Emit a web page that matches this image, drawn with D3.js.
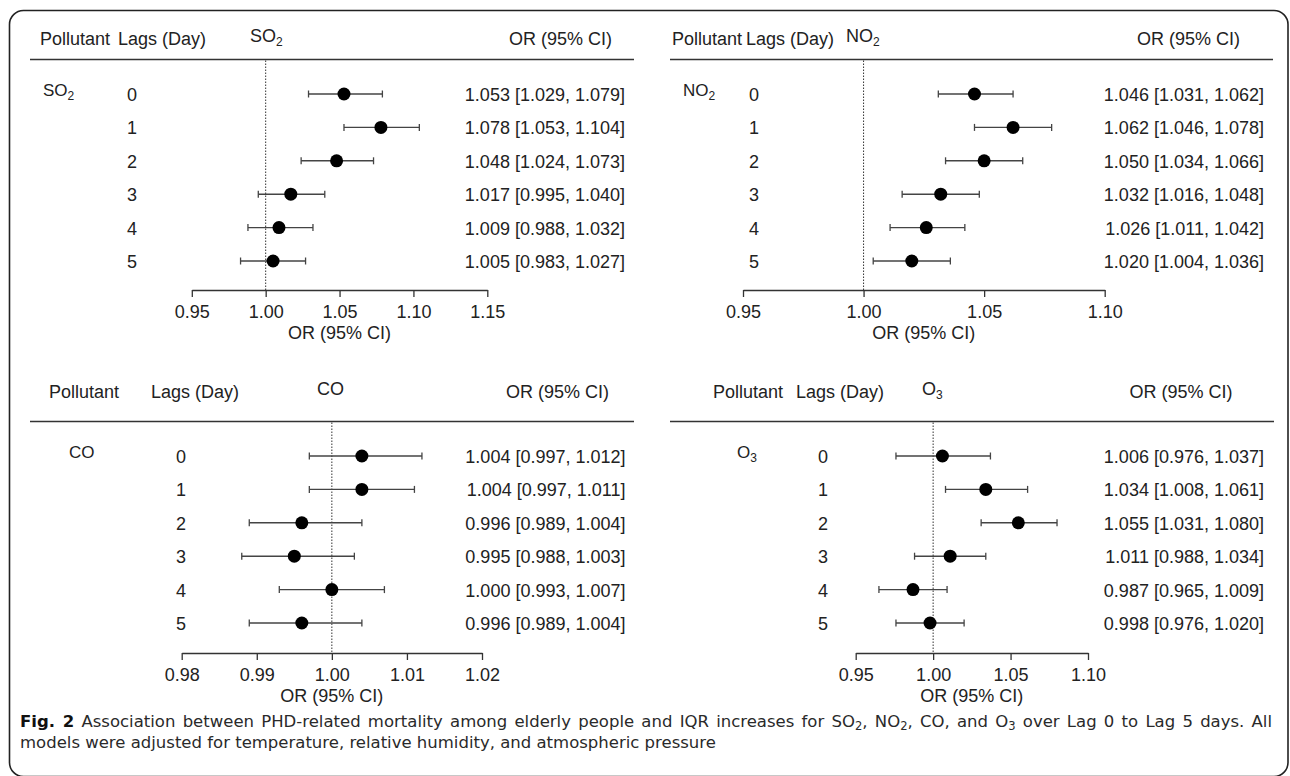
<!DOCTYPE html>
<html>
<head>
<meta charset="utf-8">
<script src="https://cdn.jsdelivr.net/npm/d3@7/dist/d3.min.js"></script>
<style>
  html, body { margin: 0; padding: 0; background: #fff; }
  svg { display: block; }
</style>
</head>
<body>
<svg id="chart" width="1290" height="776"></svg>
<script>
// ---------------- DATA ----------------
const pollutants = ["SO2", "NO2", "CO", "O3"];
const lags = [0, 1, 2, 3, 4, 5];

const so2OR = [1.053, 1.078, 1.048, 1.017, 1.009, 1.005];
const so2Lo = [1.029, 1.053, 1.024, 0.995, 0.988, 0.983];
const so2Hi = [1.079, 1.104, 1.073, 1.040, 1.032, 1.027];

const no2OR = [1.046, 1.062, 1.050, 1.032, 1.026, 1.020];
const no2Lo = [1.031, 1.046, 1.034, 1.016, 1.011, 1.004];
const no2Hi = [1.062, 1.078, 1.066, 1.048, 1.042, 1.036];

const coOR = [1.004, 1.004, 0.996, 0.995, 1.000, 0.996];
const coLo = [0.997, 0.997, 0.989, 0.988, 0.993, 0.989];
const coHi = [1.012, 1.011, 1.004, 1.003, 1.007, 1.004];

const o3OR = [1.006, 1.034, 1.055, 1.011, 0.987, 0.998];
const o3Lo = [0.976, 1.008, 1.031, 0.988, 0.965, 0.976];
const o3Hi = [1.037, 1.061, 1.080, 1.034, 1.009, 1.020];

const so2Ticks = [0.95, 1.00, 1.05, 1.10, 1.15];
const no2Ticks = [0.95, 1.00, 1.05, 1.10];
const coTicks = [0.98, 0.99, 1.00, 1.01, 1.02];
const o3Ticks = [0.95, 1.00, 1.05, 1.10];

const headerLabels = ["Pollutant", "Lags (Day)", "OR (95% CI)"];
const xAxisLabel = "OR (95% CI)";

// ---------------- LAYOUT ----------------
const FONT = "'Liberation Sans', Arial, Helvetica, sans-serif";
const CAP_FONT = "'DejaVu Sans', 'Open Sans', sans-serif";
const FS = 18;

const panels = [
  { name: pollutants[0], or: so2OR, lo: so2Lo, hi: so2Hi, ticks: so2Ticks,
    polHX: 40, lagHX: 118, titleX: 250, orHR: 612, lineX: [30, 634],
    polX: 43, lagX: 132, ciR: 625, xr: [191.8, 487.3],
    headY: 45, lineY: 59.5, rowY: [94, 261], axisY: 290 },
  { name: pollutants[1], or: no2OR, lo: no2Lo, hi: no2Hi, ticks: no2Ticks,
    polHX: 672, lagHX: 746, titleX: 846, orHR: 1240, lineX: [670, 1273],
    polX: 683, lagX: 754, ciR: 1264, xr: [743, 1104.7],
    headY: 45, lineY: 59.5, rowY: [94, 261], axisY: 290 },
  { name: pollutants[2], or: coOR, lo: coLo, hi: coHi, ticks: coTicks,
    polHX: 49, lagHX: 151, titleX: 317, orHR: 609, lineX: [30, 634],
    polX: 69, lagX: 181, ciR: 625.5, xr: [181.7, 482],
    headY: 398, lineY: 421.5, rowY: [456, 623], axisY: 653 },
  { name: pollutants[3], or: o3OR, lo: o3Lo, hi: o3Hi, ticks: o3Ticks,
    polHX: 713, lagHX: 796, titleX: 922, orHR: 1232.6, lineX: [670, 1274],
    polX: 737, lagX: 823, ciR: 1264, xr: [855.7, 1088],
    headY: 398, lineY: 421.5, rowY: [456, 623], axisY: 653 }
];

const svg = d3.select("#chart");

// rounded frame
svg.append("rect")
  .attr("x", 9.5).attr("y", 10.5)
  .attr("width", 1278.5).attr("height", 766)
  .attr("rx", 14).attr("ry", 14)
  .attr("fill", "none").attr("stroke", "#222").attr("stroke-width", 1.6);

// text with chemical subscripts
function chem(sel, label, subSize) {
  const parts = label.match(/[A-Za-z]+|\d+/g);
  parts.forEach((p, i) => {
    if (/^\d+$/.test(p)) {
      sel.append("tspan").attr("font-size", subSize).attr("dy", 4).text(p);
      if (i < parts.length - 1) sel.append("tspan").attr("dy", -4).text("");
    } else {
      sel.append("tspan").text(p);
    }
  });
}

const fmt = d3.format(".3f");

panels.forEach(p => {
  const g = svg.append("g");
  const x = d3.scaleLinear().domain([p.ticks[0], p.ticks[p.ticks.length - 1]]).range(p.xr);
  const y = d3.scalePoint().domain(lags).range(p.rowY);

  // header
  const ht = (tx, t, anchor) => g.append("text").attr("x", tx).attr("y", p.headY)
    .attr("font-family", FONT).attr("font-size", FS).attr("fill", "#222")
    .attr("text-anchor", anchor || "start").text(t);
  ht(p.polHX, headerLabels[0]);
  ht(p.lagHX, headerLabels[1]);
  ht(p.orHR, headerLabels[2], "end");
  const title = g.append("text").attr("x", p.titleX).attr("y", p.headY - 3)
    .attr("font-family", FONT).attr("font-size", FS).attr("fill", "#222");
  chem(title, p.name, 12);

  g.append("line").attr("x1", p.lineX[0]).attr("x2", p.lineX[1])
    .attr("y1", p.lineY).attr("y2", p.lineY)
    .attr("stroke", "#333").attr("stroke-width", 1.5);

  // reference line at OR = 1
  g.append("line").attr("x1", x(1)).attr("x2", x(1))
    .attr("y1", p.lineY + 1).attr("y2", p.axisY)
    .attr("stroke", "#333").attr("stroke-width", 1).attr("stroke-dasharray", "1.5,1.5");

  // pollutant label
  const pl = g.append("text").attr("x", p.polX).attr("y", p.rowY[0] + 1.5)
    .attr("font-family", FONT).attr("font-size", FS - 1).attr("fill", "#222");
  chem(pl, p.name, 12);

  const rows = lags.map((l, i) => ({ lag: l, or: p.or[i], lo: p.lo[i], hi: p.hi[i] }));

  // lag labels
  g.selectAll("text.lag").data(rows).join("text").attr("class", "lag")
    .attr("x", p.lagX).attr("y", d => y(d.lag) + 7)
    .attr("text-anchor", "middle").attr("font-family", FONT).attr("font-size", FS)
    .attr("fill", "#222").text(d => d.lag);

  // CI whiskers
  g.selectAll("line.ci").data(rows).join("line").attr("class", "ci")
    .attr("x1", d => x(d.lo)).attr("x2", d => x(d.hi))
    .attr("y1", d => y(d.lag)).attr("y2", d => y(d.lag))
    .attr("stroke", "#444").attr("stroke-width", 1.4);
  ["lo", "hi"].forEach(k => {
    g.selectAll("line.cap" + k).data(rows).join("line").attr("class", "cap" + k)
      .attr("x1", d => x(d[k])).attr("x2", d => x(d[k]))
      .attr("y1", d => y(d.lag) - 3.5).attr("y2", d => y(d.lag) + 3.5)
      .attr("stroke", "#444").attr("stroke-width", 1.3);
  });

  // points
  g.selectAll("circle.pt").data(rows).join("circle").attr("class", "pt")
    .attr("cx", d => x(d.or)).attr("cy", d => y(d.lag)).attr("r", 6.5)
    .attr("fill", "#000");

  // OR text
  g.selectAll("text.ci").data(rows).join("text").attr("class", "ci")
    .attr("x", p.ciR).attr("y", d => y(d.lag) + 7)
    .attr("text-anchor", "end").attr("font-family", FONT).attr("font-size", FS)
    .attr("fill", "#222").text(d => `${fmt(d.or)} [${fmt(d.lo)}, ${fmt(d.hi)}]`);

  // axis
  const ax = g.append("g").attr("transform", `translate(0,${p.axisY})`)
    .call(d3.axisBottom(x).tickValues(p.ticks).tickFormat(d3.format(".2f"))
      .tickSize(7).tickSizeOuter(0).tickPadding(8));
  ax.select(".domain").attr("stroke", "#333").attr("stroke-width", 1.4);
  ax.selectAll(".tick line").attr("stroke", "#333").attr("stroke-width", 1.3);
  ax.selectAll(".tick text").attr("font-family", FONT).attr("font-size", FS).attr("fill", "#222");

  g.append("text").attr("x", (p.xr[0] + p.xr[1]) / 2).attr("y", p.axisY + 49)
    .attr("text-anchor", "middle").attr("font-family", FONT).attr("font-size", FS)
    .attr("fill", "#222").text(xAxisLabel);
});

// ---------------- CAPTION ----------------
const capSegs1 = [
  { t: "Fig. 2", b: true },
  { t: " Association between PHD-related mortality among elderly people and IQR increases for SO" },
  { t: "2", s: true }, { t: ", NO" }, { t: "2", s: true }, { t: ", CO, and O" },
  { t: "3", s: true }, { t: " over Lag 0 to Lag 5 days. All" }
];
const capLine2 = "models were adjusted for temperature, relative humidity, and atmospheric pressure";

// font size chosen so that line 2 spans the same width as in the figure
const c2 = svg.append("text").attr("x", 20).attr("y", 747.5)
  .attr("font-family", CAP_FONT).attr("font-size", 16).attr("fill", "#2a2a2a")
  .text(capLine2);
const w16 = c2.node().getComputedTextLength();
const CAP_FS = Math.min(16.5, 16 * 718 / w16);
c2.attr("font-size", CAP_FS);

const c1 = svg.append("text").attr("x", 20).attr("y", 727)
  .attr("font-family", CAP_FONT).attr("font-size", CAP_FS).attr("fill", "#2a2a2a");
let prevSub = false;
capSegs1.forEach(s => {
  const ts = c1.append("tspan").text(s.t);
  if (s.b) ts.attr("font-weight", "bold").attr("fill", "#111");
  if (s.s) { ts.attr("font-size", CAP_FS * 0.7).attr("dy", 3); prevSub = true; }
  else if (prevSub) { ts.attr("dy", -3); prevSub = false; }
});
// justify line 1 to the right margin
const target = 1272 - 20;
const natural = c1.node().getComputedTextLength();
const nSpaces = (capSegs1.map(s => s.t).join("").match(/ /g) || []).length;
c1.attr("word-spacing", (target - natural) / nSpaces);
</script>
</body>
</html>
